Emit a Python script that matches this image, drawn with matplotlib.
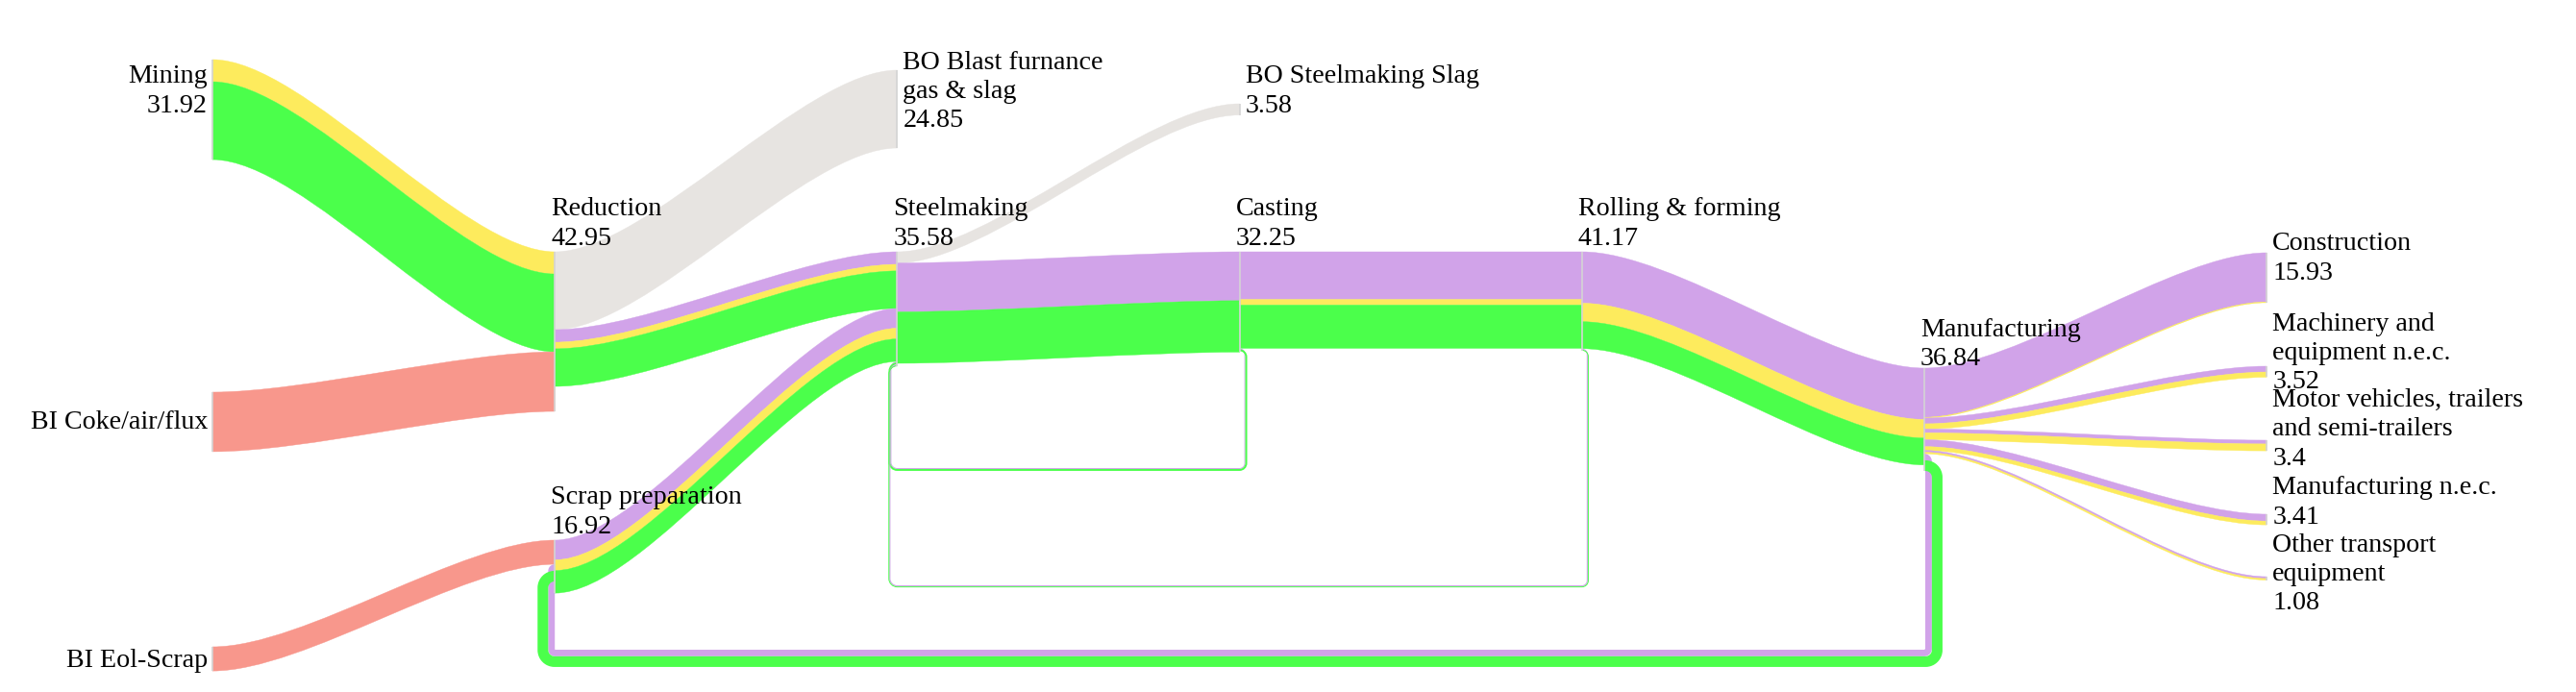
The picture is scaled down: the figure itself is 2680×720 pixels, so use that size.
import matplotlib.pyplot as plt
from matplotlib.path import Path
from matplotlib.patches import PathPatch

plt.rcParams['font.family'] = 'serif'
plt.rcParams['font.serif'] = ['Liberation Serif', 'DejaVu Serif']

# --------------------------------Data---------------------------------------------------------------------------------
nodes = ['Mining', 'BI Coke/air/flux', 'BI Eol-Scrap', 'Reduction', 'Scrap preparation',
         'BO Blast furnance gas & slag', 'Steelmaking', 'BO Steelmaking Slag', 'Casting',
         'Rolling & forming', 'Manufacturing', 'Construction', 'Machinery and equipment n.e.c.',
         'Motor vehicles, trailers and semi-trailers', 'Manufacturing n.e.c.', 'Other transport equipment']
node_text = [['Mining', '31.92'], ['BI Coke/air/flux'], ['BI Eol-Scrap'], ['Reduction', '42.95'],
             ['Scrap preparation', '16.92'], ['BO Blast furnance', 'gas & slag', '24.85'],
             ['Steelmaking', '35.58'], ['BO Steelmaking Slag', '3.58'], ['Casting', '32.25'],
             ['Rolling & forming', '41.17'], ['Manufacturing', '36.84'], ['Construction', '15.93'],
             ['Machinery and', 'equipment n.e.c.', '3.52'],
             ['Motor vehicles, trailers', 'and semi-trailers', '3.4'],
             ['Manufacturing n.e.c.', '3.41'], ['Other transport', 'equipment', '1.08']]

flow_src = ['Mining', 'Mining', 'BI Coke/air/flux', 'BI Eol-Scrap',
            'Reduction', 'Reduction', 'Reduction', 'Reduction',
            'Scrap preparation', 'Scrap preparation', 'Scrap preparation',
            'Steelmaking', 'Steelmaking', 'Steelmaking',
            'Casting', 'Casting', 'Casting', 'Casting', 'Casting',
            'Rolling & forming', 'Rolling & forming', 'Rolling & forming', 'Rolling & forming', 'Rolling & forming',
            'Manufacturing', 'Manufacturing', 'Manufacturing', 'Manufacturing', 'Manufacturing', 'Manufacturing',
            'Manufacturing', 'Manufacturing', 'Manufacturing', 'Manufacturing', 'Manufacturing', 'Manufacturing']
flow_tgt = ['Reduction', 'Reduction', 'Reduction', 'Scrap preparation',
            'BO Blast furnance gas & slag', 'Steelmaking', 'Steelmaking', 'Steelmaking',
            'Steelmaking', 'Steelmaking', 'Steelmaking',
            'BO Steelmaking Slag', 'Casting', 'Casting',
            'Rolling & forming', 'Rolling & forming', 'Rolling & forming', 'Steelmaking', 'Steelmaking',
            'Manufacturing', 'Manufacturing', 'Manufacturing', 'Steelmaking', 'Steelmaking',
            'Construction', 'Construction',
            'Machinery and equipment n.e.c.', 'Machinery and equipment n.e.c.',
            'Motor vehicles, trailers and semi-trailers', 'Motor vehicles, trailers and semi-trailers',
            'Manufacturing n.e.c.', 'Manufacturing n.e.c.',
            'Other transport equipment', 'Other transport equipment',
            'Scrap preparation', 'Scrap preparation']
flow_kind = ['yellow', 'green', 'salmon', 'salmon',
             'grey', 'purple', 'yellow', 'green',
             'purple', 'yellow', 'green',
             'grey', 'purple', 'green',
             'purple', 'yellow', 'green', 'purple', 'green',
             'purple', 'yellow', 'green', 'purple', 'green',
             'purple', 'yellow', 'purple', 'yellow', 'purple', 'yellow',
             'purple', 'yellow', 'purple', 'yellow', 'purple', 'green']
flow_value = [7.07, 24.85, 19.0, 7.7,
              24.85, 4.0, 2.1, 12.0,
              6.3, 3.4, 7.2,
              3.58, 15.6, 16.4,
              15.2, 1.8, 13.8, 0.3, 0.6,
              16.4, 5.9, 8.6, 0.35, 0.3,
              15.7, 0.23, 1.85, 1.67, 1.2, 2.2,
              2.2, 1.21, 0.6, 0.48, 2.1, 3.4]

# --------------------------------Layout / style-----------------------------------------------------------------------
colors = {'yellow': '#fdeb5d', 'green': '#4bff4b', 'salmon': '#f8978c',
          'grey': '#e7e4e1', 'purple': '#d1a3e9'}
k = 3.26  # px per unit
curv = 0.27
node_col = [0, 0, 0, 1, 1, 2, 2, 3, 3, 4, 5, 6, 6, 6, 6, 6]
node_top = [62, 408, 673, 262, 562, 73, 262, 108, 262, 262, 383, 263, 381, 458, 535, 600]
# label placement: side and y of first text line
label_side = ['left', 'left', 'left', 'above', 'above', 'right', 'above', 'right', 'above',
              'above', 'above', 'right', 'right', 'right', 'right', 'right']
label_y = [80, 440, 687, 218, 518, 65, 218, 80, 218, 218, 343, 254, 337, 416, 508, 567]
line_h = 30.5
# circular links: (gap at source, gap at target, floor y)
loops = {('Casting', 'Steelmaking'): (5, 6, 487),
         ('Rolling & forming', 'Steelmaking'): (5, 7, 609),
         ('Manufacturing', 'Scrap preparation'): (1, 0, 676)}


def col_x(c):
    return 221 + c * 356.2


idx = {n: i for i, n in enumerate(nodes)}
nx = [col_x(c) for c in node_col]
tin = [0.0] * len(nodes)
tout = [0.0] * len(nodes)
for s, t, v in zip(flow_src, flow_tgt, flow_value):
    tout[idx[s]] += v * k
    tin[idx[t]] += v * k
node_h = [max(a, b) for a, b in zip(tin, tout)]

fig = plt.figure(figsize=(26.8, 7.2), dpi=100)
ax = fig.add_axes([0, 0, 1, 1])
ax.set_xlim(0, 2680)
ax.set_ylim(720, 0)
ax.axis('off')

out_off = list(node_top)
in_off = list(node_top)
loop_stack = {}


def corner(p0, p1, p2):
    # round corner from p0 to p1, p2 is the sharp corner point
    c = 0.5523
    return [((p0[0] + c * (p2[0] - p0[0])), (p0[1] + c * (p2[1] - p0[1]))),
            ((p1[0] + c * (p2[0] - p1[0])), (p1[1] + c * (p2[1] - p1[1]))), p1]


for s, t, kind, v in zip(flow_src, flow_tgt, flow_kind, flow_value):
    w = v * k
    i, j = idx[s], idx[t]
    y0 = out_off[i]
    y1 = in_off[j]
    out_off[i] += w
    in_off[j] += w
    x0, x1 = nx[i], nx[j]
    col = colors[kind]
    if node_col[j] > node_col[i]:
        xa = x0 + (x1 - x0) * curv
        xb = x1 - (x1 - x0) * curv
        verts = [(x0, y0), (xa, y0), (xb, y1), (x1, y1),
                 (x1, y1 + w), (xb, y1 + w), (xa, y0 + w), (x0, y0 + w), (x0, y0)]
        codes = [Path.MOVETO, Path.CURVE4, Path.CURVE4, Path.CURVE4,
                 Path.LINETO, Path.CURVE4, Path.CURVE4, Path.CURVE4, Path.CLOSEPOLY]
        ax.add_patch(PathPatch(Path(verts, codes), facecolor=col, edgecolor=col, lw=0.3))
    else:
        gs, gt, floor = loops[(s, t)]
        used = loop_stack.get((s, t), 0.0)
        loop_stack[(s, t)] = used + w
        ys = y0 + w / 2
        yt = y1 + w / 2
        vxs = x0 + gs + used + w / 2
        vxt = x1 - gt - used - w / 2
        yf = floor + used + w / 2
        r1 = min(vxs - x0, 12)
        r2 = min(x1 - vxt, 12)
        verts = [(x0, ys), (vxs - r1, ys)]
        verts += corner((vxs - r1, ys), (vxs, ys + r1), (vxs, ys))
        verts += [(vxs, yf - r1)]
        verts += corner((vxs, yf - r1), (vxs - r1, yf), (vxs, yf))
        verts += [(vxt + r2, yf)]
        verts += corner((vxt + r2, yf), (vxt, yf - r2), (vxt, yf))
        verts += [(vxt, yt + r2)]
        verts += corner((vxt, yt + r2), (vxt + r2, yt), (vxt, yt))
        verts += [(x1, yt)]
        codes = [Path.MOVETO, Path.LINETO] + [Path.CURVE4] * 3 + [Path.LINETO] + [Path.CURVE4] * 3 \
            + [Path.LINETO] + [Path.CURVE4] * 3 + [Path.LINETO] + [Path.CURVE4] * 3 + [Path.LINETO]
        ax.add_patch(PathPatch(Path(verts, codes), facecolor='none', edgecolor=col,
                               lw=w * 0.72, capstyle='butt', joinstyle='round'))

# nodes
for i in range(len(nodes)):
    ax.plot([nx[i], nx[i]], [node_top[i], node_top[i] + node_h[i]], color='#d4d4d4', lw=1.2,
            solid_capstyle='butt', zorder=3)

# labels
for i in range(len(nodes)):
    side = label_side[i]
    if side == 'left':
        x, ha = nx[i] - 5, 'right'
    elif side == 'above':
        x, ha = nx[i] - 4, 'left'
    else:
        x, ha = nx[i] + 6, 'left'
    for n, line in enumerate(node_text[i]):
        ax.text(x, label_y[i] + n * line_h, line, ha=ha, va='center', fontsize=20.2,
                color='black', zorder=4)

fig.savefig('out.png', dpi=100)
